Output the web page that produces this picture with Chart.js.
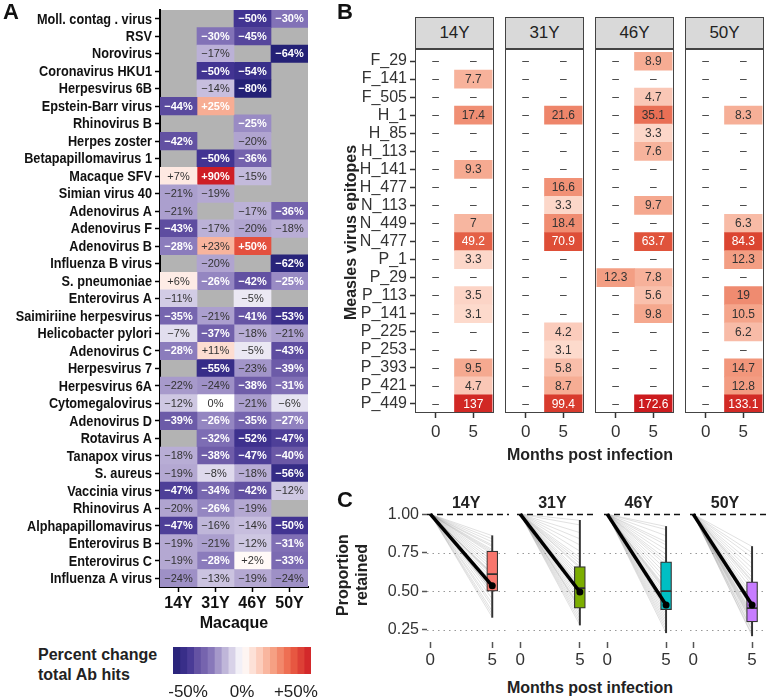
<!DOCTYPE html>
<html>
<head>
<meta charset="utf-8">
<script src="https://cdn.jsdelivr.net/npm/chart.js@4.4.1/dist/chart.umd.min.js"></script>
<style>
  body { margin: 0; width: 767px; height: 697px; position: relative; overflow: hidden; background: #fff;
         font-family: 'Liberation Sans', Arial, sans-serif; color: #222; }
  .txt { position: absolute; white-space: nowrap; }
  .strip { position: absolute; top: 17px; height: 32px; width: 79px; box-sizing: border-box; background: #d9d9d9;
           border: 1px solid #444; text-align: center; font-size: 17px; line-height: 30px; color: #222; }
</style>
</head>
<body>
<script>
// ---- panel A: percent change in total Ab hits ----
const viruses = ['Moll. contag . virus', 'RSV', 'Norovirus', 'Coronavirus HKU1', 'Herpesvirus 6B', 'Epstein-Barr virus',
  'Rhinovirus B', 'Herpes zoster', 'Betapapillomavirus 1', 'Macaque SFV', 'Simian virus 40', 'Adenovirus A',
  'Adenovirus F', 'Adenovirus B', 'Influenza B virus', 'S. pneumoniae', 'Enterovirus A', 'Saimiriine herpesvirus',
  'Helicobacter pylori', 'Adenovirus C', 'Herpesvirus 7', 'Herpesvirus 6A', 'Cytomegalovirus', 'Adenovirus D',
  'Rotavirus A', 'Tanapox virus', 'S. aureus', 'Vaccinia virus', 'Rhinovirus A', 'Alphapapillomavirus',
  'Enterovirus B', 'Enterovirus C', 'Influenza A virus'];
const macaques = ['14Y', '31Y', '46Y', '50Y'];
const change14Y = [null, null, null, null, null, -44, null, -42, null, 7, -21, -21, -43, -28, null, 6, -11, -35, -7, -28,
  null, -22, -12, -39, null, -18, -19, -47, -20, -47, -19, -19, -24];
const change31Y = [null, -30, -17, -50, -14, 25, null, null, -50, 90, -19, null, -17, 23, -20, -26, null, -21, -37, 11,
  -55, -24, 0, -26, -32, -38, -8, -34, -26, -16, -21, -28, -13];
const change46Y = [-50, -45, null, -54, -80, null, -25, -20, -36, -15, null, -17, -20, 50, null, -42, -5, -41, -18, -5,
  -23, -38, -21, -35, -52, -47, -18, -42, -19, -14, -12, 2, -19];
const change50Y = [-30, null, -64, null, null, null, null, null, null, null, null, -36, -18, null, -62, -25, null, -53, -21, -43,
  -39, -31, -6, -27, -47, -40, -56, -12, null, -50, -31, -33, -24];
const legendTicks = [-50, 0, 50];

// ---- panel B: measles epitope hits ----
const epitopes = ['F_29', 'F_141', 'F_505', 'H_1', 'H_85', 'H_113', 'H_141', 'H_477', 'N_113', 'N_449', 'N_477',
  'P_1', 'P_29', 'P_113', 'P_141', 'P_225', 'P_253', 'P_393', 'P_421', 'P_449'];
const months = [0, 5];
const hits14Y_m0 = [null, null, null, null, null, null, null, null, null, null, null, null, null, null, null, null, null, null, null, null];
const hits14Y_m5 = [null, 7.7, null, 17.4, null, null, 9.3, null, null, 7, 49.2, 3.3, null, 3.5, 3.1, null, null, 9.5, 4.7, 137];
const hits31Y_m0 = [null, null, null, null, null, null, null, null, null, null, null, null, null, null, null, null, null, null, null, null];
const hits31Y_m5 = [null, null, null, 21.6, null, null, null, 16.6, 3.3, 18.4, 70.9, null, null, null, null, 4.2, 3.1, 5.8, 8.7, 99.4];
const hits46Y_m0 = [null, null, null, null, null, null, null, null, null, null, null, null, 12.3, null, null, null, null, null, null, null];
const hits46Y_m5 = [8.9, null, 4.7, 35.1, 3.3, 7.6, null, null, 9.7, null, 63.7, null, 7.8, 5.6, 9.8, null, null, null, null, 172.6];
const hits50Y_m0 = [null, null, null, null, null, null, null, null, null, null, null, null, null, null, null, null, null, null, null, null];
const hits50Y_m5 = [null, null, null, 8.3, null, null, null, null, null, 6.3, 84.3, 12.3, null, 19, 10.5, 6.2, null, 14.7, 12.8, 133.1];

// ---- panel C: proportion of epitopes retained at 5 months ----
const retained14Y = [0.86, 0.84, 0.82, 0.80, 0.79, 0.77, 0.76, 0.75, 0.74, 0.72, 0.70, 0.68, 0.66, 0.64, 0.62, 0.61,
  0.61, 0.60, 0.58, 0.56, 0.55, 0.53, 0.51, 0.50, 0.50, 0.48, 0.45, 0.42, 0.40, 0.37, 0.35, 0.33];
const retained31Y = [0.96, 0.93, 0.88, 0.84, 0.80, 0.76, 0.72, 0.70, 0.68, 0.66, 0.65, 0.62, 0.60, 0.58, 0.56, 0.54,
  0.53, 0.52, 0.51, 0.50, 0.48, 0.46, 0.44, 0.42, 0.40, 0.39, 0.38, 0.36, 0.34, 0.32, 0.30, 0.28];
const retained46Y = [0.92, 0.90, 0.86, 0.82, 0.80, 0.77, 0.74, 0.71, 0.69, 0.67, 0.64, 0.61, 0.58, 0.55, 0.52, 0.51,
  0.50, 0.49, 0.47, 0.45, 0.43, 0.41, 0.39, 0.38, 0.37, 0.35, 0.33, 0.31, 0.29, 0.27, 0.25, 0.23];
const retained50Y = [0.79, 0.75, 0.72, 0.68, 0.65, 0.62, 0.59, 0.57, 0.56, 0.54, 0.51, 0.48, 0.46, 0.44, 0.42, 0.40,
  0.39, 0.39, 0.38, 0.36, 0.35, 0.34, 0.33, 0.32, 0.31, 0.30, 0.29, 0.27, 0.25, 0.24, 0.22, 0.21];
const whiskerLow = [0.33, 0.28, 0.23, 0.21];
const boxQ1 = [0.50, 0.39, 0.38, 0.30];
const boxMedian = [0.61, 0.52, 0.50, 0.39];
const boxQ3 = [0.76, 0.66, 0.69, 0.56];
const whiskerHigh = [0.86, 0.96, 0.92, 0.79];
const meanRetained = [0.535, 0.495, 0.41, 0.41];
const startProportion = 1;
const proportionTicks = [0.25, 0.5, 0.75, 1];
const boxColors = ['#F8766D', '#7CAE00', '#00BFC4', '#C77CFF'];

Chart.defaults.animation = false;
Chart.defaults.font.family = "'Liberation Sans', Arial, sans-serif";
Chart.defaults.color = '#222';
Chart.defaults.plugins.legend.display = false;
Chart.defaults.plugins.tooltip.enabled = false;

function addCanvas(left, top, w, h) {
  const c = document.createElement('canvas');
  c.width = w; c.height = h;
  c.style.cssText = `position:absolute;left:${left}px;top:${top}px;width:${w}px;height:${h}px`;
  document.body.appendChild(c);
  return c;
}
function addText(html, left, top, css) {
  const d = document.createElement('div');
  d.className = 'txt';
  d.innerHTML = html;
  d.style.cssText = `left:${left}px;top:${top}px;` + (css || '');
  document.body.appendChild(d);
  return d;
}
// axis sizes are fixed by hand so the facets line up; drop the label overflow padding too
const fixSize = (w, h) => (s) => {
  if (w !== null) s.width = w;
  if (h !== null) s.height = h;
  s.paddingTop = s.paddingBottom = s.paddingLeft = s.paddingRight = 0;
};
function lerpStops(stops, v) {
  if (v <= stops[0][0]) return stops[0][1];
  for (let i = 1; i < stops.length; i++) {
    if (v <= stops[i][0]) {
      const [a, ca] = stops[i - 1], [b, cb] = stops[i];
      const t = (v - a) / (b - a);
      return ca.map((c, k) => Math.round(c + (cb[k] - c) * t));
    }
  }
  return stops[stops.length - 1][1];
}
const rgb = (c) => `rgb(${c[0]},${c[1]},${c[2]})`;

const divergingStops = [[-64, [36, 33, 118]], [-50, [66, 52, 146]], [-40, [106, 88, 166]], [-30, [130, 114, 183]],
  [-20, [176, 164, 208]], [-10, [214, 208, 231]], [0, [255, 255, 255]], [15, [252, 208, 192]], [30, [245, 156, 126]],
  [45, [236, 98, 70]], [64, [206, 30, 38]]];
const divColor = (v) => rgb(lerpStops(divergingStops, v));
const seqStops = [[0, [253, 219, 206]], [0.3, [245, 166, 140]], [0.55, [236, 122, 94]], [0.8, [221, 74, 51]], [1, [204, 26, 30]]];
const seqColor = (v) => rgb(lerpStops(seqStops, Math.log(v / 3) / Math.log(175 / 3)));

const fmtChange = (v) => v > 0 ? '+' + v + '%' : (v < 0 ? '\u2212' + (-v) + '%' : '0%');

// fills the plot area before anything else is drawn
const areaFill = (color) => ({
  id: 'areaFill',
  beforeDraw(chart) {
    const { ctx, chartArea: a } = chart;
    ctx.save();
    ctx.fillStyle = color;
    ctx.fillRect(a.left, a.top, a.right - a.left, a.bottom - a.top);
    ctx.restore();
  }
});
// facet frame; the top edge sits a little above the first row (discrete expansion)
const areaBorder = {
  id: 'areaBorder',
  afterDraw(chart) {
    const { ctx, chartArea: a } = chart;
    const top = Math.round(a.top) - 3;
    ctx.save();
    ctx.strokeStyle = '#444';
    ctx.lineWidth = 1;
    ctx.strokeRect(Math.round(a.left) + 0.5, top + 0.5, Math.round(a.right - a.left) - 1, Math.round(a.bottom) - top - 1);
    ctx.restore();
  }
};

// ================= Panel A =================
const changeByMacaque = [change14Y, change31Y, change46Y, change50Y];
const cellLabels = {
  id: 'cellLabels',
  afterDatasetsDraw(chart) {
    const { ctx } = chart;
    ctx.save();
    ctx.textAlign = 'center';
    ctx.textBaseline = 'middle';
    changeByMacaque.forEach((vals, j) => {
      const meta = chart.getDatasetMeta(j);
      vals.forEach((v, i) => {
        if (v === null) return;
        const p = meta.data[i].getCenterPoint();
        const light = Math.abs(v) >= 25;
        ctx.font = (light ? 'bold ' : '') + "11px 'Liberation Sans', Arial, sans-serif";
        ctx.fillStyle = light ? '#fff' : '#333';
        ctx.fillText(fmtChange(v), p.x, p.y + 0.5);
      });
    });
    ctx.restore();
  }
};
// condensed row labels (no narrow face is installed, so squeeze the bold face)
const narrowRowLabels = {
  id: 'narrowRowLabels',
  afterDraw(chart) {
    const { ctx, scales: { y } } = chart;
    ctx.save();
    ctx.font = "bold 15.5px 'Liberation Sans', Arial, sans-serif";
    ctx.fillStyle = '#111';
    ctx.textAlign = 'right';
    ctx.textBaseline = 'middle';
    y.ticks.forEach((t, i) => {
      ctx.save();
      ctx.translate(y.right - 8, y.getPixelForTick(i) + 0.5);
      ctx.scale(0.82, 1);
      ctx.fillText(y.getLabelForValue(t.value), 0, 0);
      ctx.restore();
    });
    ctx.restore();
  }
};

new Chart(addCanvas(0, 0, 312, 633), {
  type: 'bar',
  data: {
    labels: viruses,
    datasets: changeByMacaque.map((vals, j) => ({
      label: macaques[j],
      data: vals.map(v => v === null ? null : [j - 0.5, j + 0.5]),
      backgroundColor: (ctx) => divColor(vals[ctx.dataIndex] ?? 0),
      borderWidth: 0,
      grouped: false,
      barPercentage: 1,
      categoryPercentage: 1
    }))
  },
  options: {
    indexAxis: 'y',
    responsive: false,
    layout: { padding: { top: 10, right: 4 } },
    scales: {
      x: {
        type: 'linear', min: -0.5, max: 3.5,
        afterBuildTicks: (s) => { s.ticks = macaques.map((m, i) => ({ value: i })); },
        ticks: { callback: (v) => macaques[v], font: { size: 16, weight: 'bold' }, color: '#111', padding: 2 },
        grid: { drawOnChartArea: false, tickLength: 5, color: '#000', tickWidth: 1.5 },
        border: { color: '#000', width: 2 },
        title: { display: true, text: 'Macaque', font: { size: 16, weight: 'bold' }, color: '#111', padding: { top: 1, bottom: 0 } },
        afterFit: fixSize(null, 46)
      },
      y: {
        offset: true,
        grid: { offset: false, drawOnChartArea: false, tickLength: 5, color: '#000', tickWidth: 1.5 },
        border: { color: '#000', width: 2 },
        ticks: { display: false, autoSkip: false },
        afterFit: fixSize(160, null)
      }
    }
  },
  plugins: [areaFill('#b3b3b3'), cellLabels, narrowRowLabels]
});

// colour bar legend for panel A
const legendEdges = [];
for (let k = 0; k <= 20; k++) legendEdges.push(-64 + k * 6.4);
new Chart(addCanvas(165, 640, 157, 57), {
  type: 'bar',
  data: {
    labels: ['scale'],
    datasets: legendEdges.slice(0, -1).map((e, k) => ({
      data: [[e, legendEdges[k + 1]]],
      backgroundColor: divColor((e + legendEdges[k + 1]) / 2),
      borderWidth: 0, grouped: false, barPercentage: 1, categoryPercentage: 1
    }))
  },
  options: {
    indexAxis: 'y',
    responsive: false,
    layout: { padding: { left: 8, right: 11, top: 7 } },
    scales: {
      x: {
        type: 'linear', min: -64, max: 64,
        afterBuildTicks: (s) => { s.ticks = legendTicks.map(v => ({ value: v })); },
        ticks: { callback: (v) => (v > 0 ? '+' : '') + v + '%', font: { size: 17 }, color: '#222', padding: 0 },
        grid: { display: false }, border: { display: false },
        afterFit: fixSize(null, 23)
      },
      y: { display: false }
    }
  }
});

addText('A', 3, -1, 'font-weight:bold;font-size:22px;color:#111');
addText('Percent change<br>total Ab hits', 38, 645, 'font-weight:bold;font-size:16px;line-height:20px;color:#222');

// ================= Panel B =================
const hitsByMacaque = [[hits14Y_m0, hits14Y_m5], [hits31Y_m0, hits31Y_m5], [hits46Y_m0, hits46Y_m5], [hits50Y_m0, hits50Y_m5]];
const facetLeftB = [415, 505, 595, 685];
const tileHalf = 2.5;

const tileLabels = (cols) => ({
  id: 'tileLabels',
  afterDatasetsDraw(chart) {
    const { ctx, scales: { x, y } } = chart;
    ctx.save();
    ctx.font = "12px 'Liberation Sans', Arial, sans-serif";
    ctx.textAlign = 'center';
    ctx.textBaseline = 'middle';
    cols.forEach((vals, j) => {
      const px = x.getPixelForValue(months[j]);
      vals.forEach((v, i) => {
        const py = y.getPixelForValue(i);
        ctx.fillStyle = v !== null && v >= 45 ? '#fff' : '#333';
        ctx.fillText(v === null ? '\u2013' : String(v), px, py + 0.5);
      });
    });
    ctx.restore();
  }
});

hitsByMacaque.forEach((cols, k) => {
  const first = k === 0;
  const left = first ? 330 : facetLeftB[k] - 1;
  const width = facetLeftB[k] + 80 - left;
  new Chart(addCanvas(left, 48, width, 400), {
    type: 'bar',
    data: {
      labels: epitopes,
      datasets: cols.map((vals, j) => ({
        data: vals.map(v => v === null ? null : [months[j] - tileHalf, months[j] + tileHalf]),
        backgroundColor: (ctx) => seqColor(vals[ctx.dataIndex] ?? 3),
        borderWidth: 0, grouped: false, barPercentage: 1, categoryPercentage: 1
      }))
    },
    options: {
      indexAxis: 'y',
      responsive: false,
      layout: { padding: { top: 4, right: 1, left: first ? 0 : 1 } },
      scales: {
        x: {
          type: 'linear', min: -2.75, max: 7.75,
          afterBuildTicks: (s) => { s.ticks = months.map(v => ({ value: v })); },
          ticks: { font: { size: 17 }, color: '#333', padding: 4 },
          grid: { drawOnChartArea: false, tickLength: 5, color: '#333', tickWidth: 1.5 },
          border: { display: false },
          afterFit: fixSize(null, 35)
        },
        y: {
          display: first,
          offset: true,
          grid: { offset: false, drawOnChartArea: false, tickLength: 5, color: '#333', tickWidth: 1.5 },
          border: { display: false },
          ticks: { autoSkip: false, font: { size: 16 }, color: '#333', padding: 3 },
          title: { display: true, text: 'Measles virus epitopes', font: { size: 16, weight: 'bold' }, color: '#222', padding: { top: 12, bottom: 0 } },
          afterFit: fixSize(first ? 85 : 0, null)
        }
      }
    },
    plugins: [tileLabels(cols), areaBorder]
  });
  addText(macaques[k], facetLeftB[k], 17, '').className = 'strip';
});

addText('B', 337, -1, 'font-weight:bold;font-size:22px;color:#111');
addText('Months post infection', 590, 446, 'font-weight:bold;font-size:16px;color:#222;transform:translateX(-50%)');

// ================= Panel C =================
const retainedByMacaque = [retained14Y, retained31Y, retained46Y, retained50Y];
const facetLeftC = [427, 513.3, 599.6, 685.9];
const facetWidthC = 86.3;

const refLines = {
  id: 'refLines',
  beforeDatasetsDraw(chart) {
    const { ctx, chartArea: a, scales: { y } } = chart;
    ctx.save();
    proportionTicks.forEach(v => {
      const py = Math.round(y.getPixelForValue(v)) + 0.5;
      ctx.beginPath();
      if (v === startProportion) { ctx.setLineDash([6, 4]); ctx.strokeStyle = '#111'; ctx.lineWidth = 1.3; }
      else { ctx.setLineDash([1.5, 4]); ctx.strokeStyle = '#999'; ctx.lineWidth = 1.2; }
      ctx.moveTo(a.left, py);
      ctx.lineTo(a.right, py);
      ctx.stroke();
    });
    ctx.restore();
  }
};

retainedByMacaque.forEach((vals, k) => {
  const first = k === 0;
  const left = first ? 330 : Math.round(facetLeftC[k]);
  const width = Math.round(facetLeftC[k] + facetWidthC) - left;
  const spanUnits = facetWidthC / 13.03;
  const datasets = [
    {
      type: 'line',
      data: [{ x: months[0], y: startProportion }, { x: months[1], y: meanRetained[k] }],
      borderColor: '#000', borderWidth: 3.5, pointRadius: [0, 3.5], pointBackgroundColor: '#000',
      pointBorderWidth: 0, order: 0
    },
    {
      type: 'bar', data: [{ x: months[1], y: [boxMedian[k], boxQ3[k]] }],
      backgroundColor: boxColors[k], borderColor: '#333', borderWidth: 1.2, borderSkipped: false,
      barThickness: 11, grouped: false, order: 1
    },
    {
      type: 'bar', data: [{ x: months[1], y: [boxQ1[k], boxMedian[k]] }],
      backgroundColor: boxColors[k], borderColor: '#333', borderWidth: 1.2, borderSkipped: false,
      barThickness: 11, grouped: false, order: 1
    },
    {
      type: 'bar', data: [{ x: months[1], y: [whiskerLow[k], whiskerHigh[k]] }],
      backgroundColor: '#333', barThickness: 1.3, grouped: false, order: 2
    }
  ];
  vals.forEach(v => datasets.push({
    type: 'line',
    data: [{ x: months[0], y: startProportion }, { x: months[1], y: v }],
    borderColor: 'rgba(110,110,110,0.3)', borderWidth: 0.7, pointRadius: 0, order: 3
  }));
  new Chart(addCanvas(left, 500, width, 170), {
    type: 'line',
    data: { datasets },
    options: {
      responsive: false,
      layout: { padding: { top: 8 } },
      scales: {
        x: {
          type: 'linear', min: -0.27, max: -0.27 + spanUnits, offset: false,
          afterBuildTicks: (s) => { s.ticks = months.map(v => ({ value: v })); },
          ticks: { font: { size: 17 }, color: '#333', padding: 2 },
          grid: { offset: false, drawOnChartArea: false, tickLength: 6, color: '#555', tickWidth: 1.5 },
          border: { display: false },
          afterFit: fixSize(null, 28)
        },
        y: {
          display: first,
          type: 'linear', min: 0.17, max: 1.04, beginAtZero: false,
          afterBuildTicks: (s) => { s.ticks = proportionTicks.map(v => ({ value: v })); },
          ticks: { callback: (v) => v.toFixed(2), font: { size: 16 }, color: '#333', padding: 3 },
          grid: { drawOnChartArea: false, tickLength: 5, color: '#555', tickWidth: 1.5 },
          border: { display: false },
          title: { display: true, text: ['Proportion', 'retained'], font: { size: 16, weight: 'bold' }, color: '#222', padding: { top: 4, bottom: 2 } },
          afterFit: fixSize(first ? 97 : 0, null)
        }
      }
    },
    plugins: [refLines]
  });
  addText(macaques[k], facetLeftC[k] + facetWidthC / 2 - 4, 494, 'font-weight:bold;font-size:16px;color:#222;transform:translateX(-50%)');
});

addText('C', 337, 487, 'font-weight:bold;font-size:22px;color:#111');
addText('Months post infection', 590, 679, 'font-weight:bold;font-size:16px;color:#222;transform:translateX(-50%)');
</script>
</body>
</html>
